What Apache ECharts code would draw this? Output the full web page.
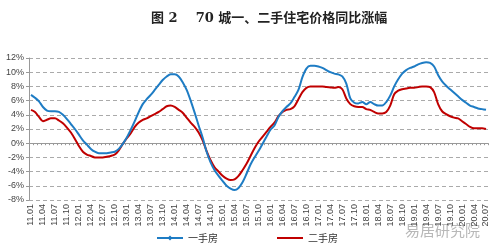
<!DOCTYPE html>
<html><head><meta charset="utf-8">
<script src="https://cdn.jsdelivr.net/npm/echarts@6/dist/echarts.min.js"></script>
<style>html,body{margin:0;padding:0;background:#fff}#c{width:500px;height:251px}</style>
</head><body><div id="c"></div>
<script>
const title = '图 2    70 城一、二手住宅价格同比涨幅';
const seriesNames = ['一手房', '二手房'];
const yTicks = [-8, -6, -4, -2, 0, 2, 4, 6, 8, 10, 12];
// monthly categories 2011.01 – 2020.07
const categories = ['11.01','11.02','11.03','11.04','11.05','11.06','11.07','11.08','11.09','11.10','11.11','11.12',
'12.01','12.02','12.03','12.04','12.05','12.06','12.07','12.08','12.09','12.10','12.11','12.12',
'13.01','13.02','13.03','13.04','13.05','13.06','13.07','13.08','13.09','13.10','13.11','13.12',
'14.01','14.02','14.03','14.04','14.05','14.06','14.07','14.08','14.09','14.10','14.11','14.12',
'15.01','15.02','15.03','15.04','15.05','15.06','15.07','15.08','15.09','15.10','15.11','15.12',
'16.01','16.02','16.03','16.04','16.05','16.06','16.07','16.08','16.09','16.10','16.11','16.12',
'17.01','17.02','17.03','17.04','17.05','17.06','17.07','17.08','17.09','17.10','17.11','17.12',
'18.01','18.02','18.03','18.04','18.05','18.06','18.07','18.08','18.09','18.10','18.11','18.12',
'19.01','19.02','19.03','19.04','19.05','19.06','19.07','19.08','19.09','19.10','19.11','19.12',
'20.01','20.02','20.03','20.04','20.05','20.06','20.07'];
const newHome = [6.8,6.4,5.9,5.1,4.6,4.5,4.5,4.4,4.0,3.4,2.7,2.0,
1.2,0.4,-0.2,-0.8,-1.2,-1.4,-1.4,-1.4,-1.3,-1.2,-0.8,-0.1,
0.8,1.9,3.1,4.4,5.5,6.2,6.8,7.5,8.2,8.9,9.4,9.7,
9.7,9.4,8.6,7.5,6.0,4.3,2.5,0.8,-1.2,-2.7,-3.8,-4.6,
-5.3,-6.0,-6.4,-6.6,-6.3,-5.5,-4.3,-3.0,-2.0,-1.1,-0.1,0.9,
1.9,2.5,3.7,4.5,5.1,5.6,6.5,7.5,9.3,10.5,10.9,10.9,
10.8,10.6,10.3,10.0,9.8,9.7,9.4,8.4,6.3,5.7,5.6,5.8,
5.5,5.8,5.5,5.3,5.3,5.8,6.7,8.0,9.0,9.8,10.3,10.6,
10.8,11.1,11.3,11.4,11.3,10.8,9.6,8.7,8.1,7.6,7.1,6.6,
6.1,5.7,5.3,5.1,4.9,4.8,4.7];
const resale = [4.7,4.4,3.7,3.1,3.3,3.5,3.5,3.2,2.8,2.2,1.5,0.6,
-0.4,-1.2,-1.6,-1.8,-2.0,-2.0,-2.0,-1.9,-1.8,-1.6,-1.0,-0.1,
0.7,1.4,2.3,2.9,3.3,3.5,3.8,4.1,4.4,4.8,5.2,5.3,
5.1,4.7,4.3,3.6,2.9,2.3,1.5,0.4,-1.1,-2.4,-3.4,-4.0,
-4.6,-5.0,-5.2,-5.1,-4.6,-3.8,-2.9,-1.8,-0.7,0.2,0.9,1.6,
2.3,2.9,3.8,4.4,4.7,4.8,5.2,6.2,7.2,7.8,8.0,8.0,
8.0,8.0,7.9,7.85,7.8,7.9,7.6,6.3,5.5,5.2,5.1,5.1,
4.8,4.7,4.4,4.2,4.2,4.4,5.3,6.9,7.4,7.6,7.7,7.8,
7.8,7.9,8.0,8.0,7.9,7.2,5.5,4.5,4.1,3.8,3.6,3.5,
3.1,2.7,2.3,2.1,2.1,2.1,2.0];
const watermark = '易居研究院';

const chart = echarts.init(document.getElementById('c'), null, {renderer: 'canvas'});
const labelFont = 'Liberation Sans, Arial, sans-serif';
const legendText = {fontFamily: 'Noto Sans CJK SC', fontSize: 10, color: '#333'};
chart.setOption({
  animation: false,
  backgroundColor: '#fff',
  title: {
    text: title, left: 146, top: 7,
    textStyle: {fontFamily: '"DejaVu Serif", "Noto Sans CJK SC"', fontWeight: 'bold', fontSize: 13, color: '#222'}
  },
  graphic: [{
    type: 'text', left: 405, top: 223,
    style: {text: watermark, fill: '#b8b8b8', font: '15px "Noto Sans CJK SC"'}
  }],
  legend: [{
    bottom: 3, left: 151, itemWidth: 26, itemHeight: 6,
    textStyle: legendText, data: [seriesNames[0]]
  }, {
    bottom: 3, left: 272, itemWidth: 26, itemHeight: 2,
    textStyle: legendText, data: [{name: seriesNames[1], icon: 'rect'}]
  }],
  grid: {left: 29, right: 12, top: 58, bottom: 51},
  xAxis: [{
    type: 'category', data: categories, boundaryGap: true,
    axisLine: {onZero: true, lineStyle: {color: '#999', width: 1}},
    axisTick: {show: true, interval: 0, length: 2, lineStyle: {color: '#999'}},
    axisLabel: {show: false}, splitLine: {show: false}
  }, {
    type: 'category', data: categories, boundaryGap: true, position: 'bottom',
    axisLine: {show: false, onZero: false}, axisTick: {show: false},
    axisLabel: {interval: 2, rotate: 90, margin: 4, fontSize: 9, fontFamily: labelFont, color: '#444'}
  }],
  yAxis: {
    type: 'value', min: yTicks[0], max: yTicks[yTicks.length - 1], interval: 2,
    axisLine: {show: true, lineStyle: {color: '#999'}},
    axisTick: {show: true, length: 3, lineStyle: {color: '#999'}},
    axisLabel: {formatter: '{value}%', fontSize: 9, fontFamily: labelFont, color: '#444', margin: 5},
    splitLine: {lineStyle: {color: '#aaa', type: [4, 3], width: 1}}
  },
  series: [{
    name: seriesNames[0], type: 'line', data: newHome, xAxisIndex: 0,
    smooth: 0.3, symbol: 'diamond', symbolSize: 5, showSymbol: true,
    itemStyle: {color: '#1a78c2'}, lineStyle: {color: '#1e7cc4', width: 2}, z: 3
  }, {
    name: seriesNames[1], type: 'line', data: resale, xAxisIndex: 0,
    smooth: 0.3, symbol: 'none', showSymbol: false,
    itemStyle: {color: '#c00000'}, lineStyle: {color: '#c00000', width: 2}, z: 2
  }]
});
</script></body></html>
